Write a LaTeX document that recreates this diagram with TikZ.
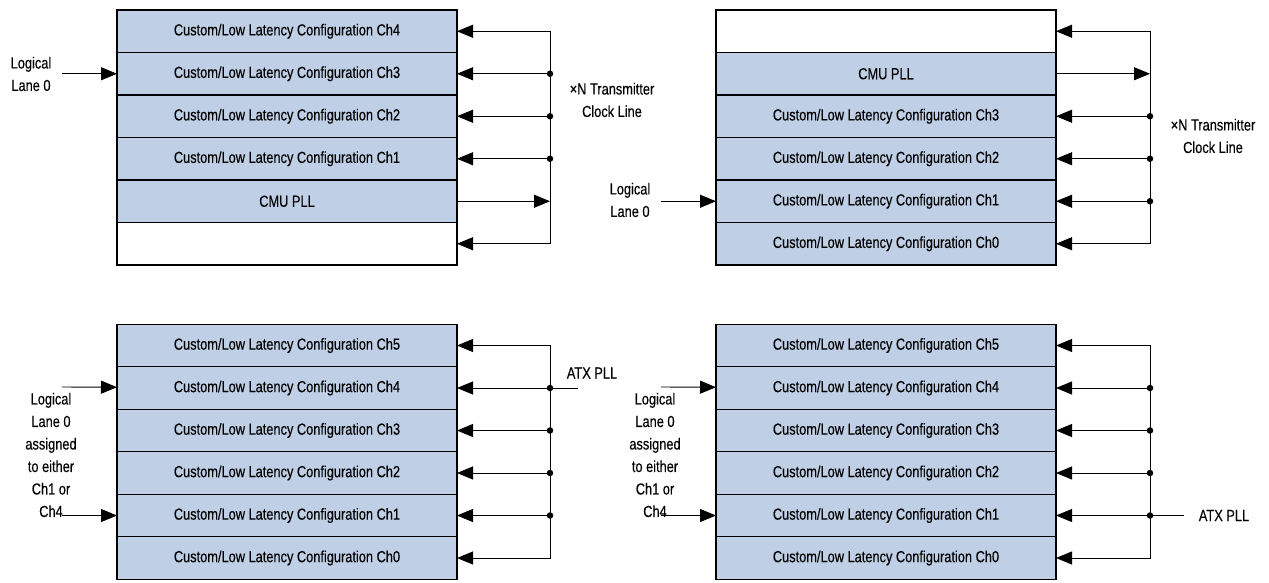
\documentclass[tikz,border=0pt]{standalone}
\usepackage{fontspec}
\setmainfont{Liberation Sans}[FakeStretch=0.8,FakeBold=0.3]
\usetikzlibrary{arrows.meta}
\definecolor{chblue}{RGB}{191,207,229}
\begin{document}
\begin{tikzpicture}[x=1pt,y=-1pt,
  font=\fontsize{16}{22.5}\selectfont,
  ch/.style={draw, line width=1.1pt, fill=chblue, minimum width=340pt, minimum height=42.5pt, inner sep=0pt, outer sep=0pt},
  blank/.style={ch, fill=white},
  lbl/.style={align=center, inner sep=0pt},
  sig/.style={line width=0.9pt},
  clk/.style={sig, -{Triangle[length=16pt,width=13pt]}},
  bothclk/.style={sig, {Triangle[length=16pt,width=13pt]}-{Triangle[length=16pt,width=13pt]}},
  tap/.style={circle, fill, inner sep=0pt, minimum size=6.5pt}]
\useasboundingbox (0,0) rectangle (1269,582);

\node[ch] (tl4) at (287,31.25) {Custom/Low Latency Configuration Ch4};
\node[ch] (tl3) at (287,73.75) {Custom/Low Latency Configuration Ch3};
\node[ch] (tl2) at (287,116.25) {Custom/Low Latency Configuration Ch2};
\node[ch] (tl1) at (287,158.75) {Custom/Low Latency Configuration Ch1};
\node[ch] (tlpll) at (287,201.25) {CMU PLL};
\node[blank] (tlx) at (287,243.75) {};
\coordinate (tlb4) at (550,31.25);
\node[tap] (tlb3) at (550,73.75) {};
\node[tap] (tlb2) at (550,116.25) {};
\node[tap] (tlb1) at (550,158.75) {};
\coordinate (tlbp) at (550,201.25);
\coordinate (tlbx) at (550,243.75);
\draw[bothclk] (tlx) -- (tlbx) -- (tlb4) -- (tl4);
\draw[clk] (tlb3) -- (tl3);
\draw[clk] (tlb2) -- (tl2);
\draw[clk] (tlb1) -- (tl1);
\draw[clk] (tlpll) -- (tlbp);
\node[lbl] (tllane) at (31,74) {Logical\\Lane 0};
\coordinate (tlin) at (62,73.75);
\draw[clk] (tlin) -- (tl3);
\node[lbl] (tlxn) at (612,100) {×N Transmitter\\Clock Line};

\node[blank] (trx) at (886,31.25) {};
\node[ch] (trpll) at (886,73.75) {CMU PLL};
\node[ch] (tr3) at (886,116.25) {Custom/Low Latency Configuration Ch3};
\node[ch] (tr2) at (886,158.75) {Custom/Low Latency Configuration Ch2};
\node[ch] (tr1) at (886,201.25) {Custom/Low Latency Configuration Ch1};
\node[ch] (tr0) at (886,243.75) {Custom/Low Latency Configuration Ch0};
\coordinate (trbx) at (1150,31.25);
\coordinate (trbp) at (1150,73.75);
\node[tap] (trb3) at (1150,116.25) {};
\node[tap] (trb2) at (1150,158.75) {};
\node[tap] (trb1) at (1150,201.25) {};
\coordinate (trb0) at (1150,243.75);
\draw[bothclk] (tr0) -- (trb0) -- (trbx) -- (trx);
\draw[clk] (trb3) -- (tr3);
\draw[clk] (trb2) -- (tr2);
\draw[clk] (trb1) -- (tr1);
\draw[clk] (trpll) -- (trbp);
\node[lbl] (trlane) at (630,200) {Logical\\Lane 0};
\coordinate (trin) at (661,201.25);
\draw[clk] (trin) -- (tr1);
\node[lbl] (trxn) at (1213,136) {×N Transmitter\\Clock Line};

\node[ch] (bl5) at (287,345.5) {Custom/Low Latency Configuration Ch5};
\node[ch] (bl4) at (287,388) {Custom/Low Latency Configuration Ch4};
\node[ch] (bl3) at (287,430.5) {Custom/Low Latency Configuration Ch3};
\node[ch] (bl2) at (287,473) {Custom/Low Latency Configuration Ch2};
\node[ch] (bl1) at (287,515.5) {Custom/Low Latency Configuration Ch1};
\node[ch] (bl0) at (287,558) {Custom/Low Latency Configuration Ch0};
\coordinate (blb5) at (550,345.5);
\node[tap] (blb4) at (550,388) {};
\node[tap] (blb3) at (550,430.5) {};
\node[tap] (blb2) at (550,473) {};
\node[tap] (blb1) at (550,515.5) {};
\coordinate (blb0) at (550,558);
\draw[bothclk] (bl0) -- (blb0) -- (blb5) -- (bl5);
\draw[clk] (blb4) -- (bl4);
\draw[clk] (blb3) -- (bl3);
\draw[clk] (blb2) -- (bl2);
\draw[clk] (blb1) -- (bl1);
\coordinate (blatxe) at (578,388);
\draw[sig] (blb4) -- (blatxe);
\node[lbl] (blatx) at (592,373) {ATX PLL};
\node[lbl] (bllane) at (51,455) {Logical\\Lane 0\\assigned\\to either\\Ch1 or\\Ch4};
\coordinate (blin4) at (62,387);
\coordinate (blin1) at (62,515.5);
\draw[clk] (blin4) -- (bl4);
\draw[clk] (blin1) -- (bl1);

\node[ch] (br5) at (886,345.5) {Custom/Low Latency Configuration Ch5};
\node[ch] (br4) at (886,388) {Custom/Low Latency Configuration Ch4};
\node[ch] (br3) at (886,430.5) {Custom/Low Latency Configuration Ch3};
\node[ch] (br2) at (886,473) {Custom/Low Latency Configuration Ch2};
\node[ch] (br1) at (886,515.5) {Custom/Low Latency Configuration Ch1};
\node[ch] (br0) at (886,558) {Custom/Low Latency Configuration Ch0};
\coordinate (brb5) at (1150,345.5);
\node[tap] (brb4) at (1150,388) {};
\node[tap] (brb3) at (1150,430.5) {};
\node[tap] (brb2) at (1150,473) {};
\node[tap] (brb1) at (1150,515.5) {};
\coordinate (brb0) at (1150,558);
\draw[bothclk] (br0) -- (brb0) -- (brb5) -- (br5);
\draw[clk] (brb4) -- (br4);
\draw[clk] (brb3) -- (br3);
\draw[clk] (brb2) -- (br2);
\draw[clk] (brb1) -- (br1);
\coordinate (bratxe) at (1184,515.5);
\draw[sig] (brb1) -- (bratxe);
\node[lbl] (bratx) at (1224,515.5) {ATX PLL};
\node[lbl] (brlane) at (655,455) {Logical\\Lane 0\\assigned\\to either\\Ch1 or\\Ch4};
\coordinate (brin4) at (661,387);
\coordinate (brin1) at (661,515.5);
\draw[clk] (brin4) -- (br4);
\draw[clk] (brin1) -- (br1);
\end{tikzpicture}
\end{document}
